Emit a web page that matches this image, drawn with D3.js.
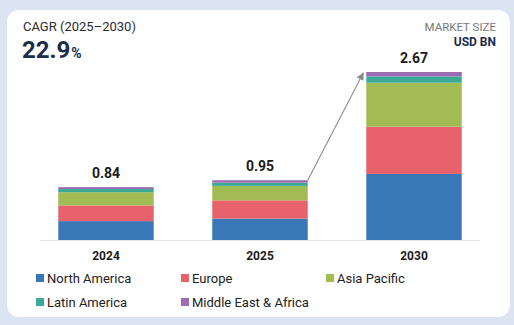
<!DOCTYPE html>
<html><head><meta charset="utf-8">
<script src="https://cdn.jsdelivr.net/npm/d3@7"></script>
<style>
html,body{margin:0;padding:0;background:#dbe5f1;}
svg{display:block;font-family:Roboto,"Noto Sans",sans-serif;}
</style></head>
<body>
<svg id="chart" width="514" height="325"></svg>
<script>
const years = ["2024", "2025", "2030"];
const regions = ["North America", "Europe", "Asia Pacific", "Latin America", "Middle East & Africa"];
const northAmerica = [0.30, 0.34, 1.05];
const europe = [0.25, 0.29, 0.75];
const asiaPacific = [0.21, 0.23, 0.70];
const latinAmerica = [0.05, 0.05, 0.10];
const middleEastAfrica = [0.03, 0.04, 0.07];
const totals = ["0.84", "0.95", "2.67"];
const colors = ["#3a77b6", "#e8626b", "#a2bc55", "#3aab97", "#9c6bb3"];

const seriesValues = [northAmerica, europe, asiaPacific, latinAmerica, middleEastAfrica];
const table = years.map((y, i) => {
  const row = {year: y};
  regions.forEach((r, k) => row[r] = seriesValues[k][i]);
  return row;
});

const svg = d3.select("#chart");
svg.append("rect").attr("x", 7).attr("y", 10).attr("width", 503).attr("height", 307)
  .attr("rx", 12).attr("fill", "#ffffff");

const x = d3.scaleBand().domain(years).range([29, 491]).paddingInner(0.38).paddingOuter(0.19);
const y = d3.scaleLinear().domain([0, 2.67]).range([240, 72]);

const stack = d3.stack().keys(regions)(table);

svg.append("line").attr("x1", 40).attr("x2", 480).attr("y1", 240.5).attr("y2", 240.5)
  .attr("stroke", "#e3e6ea").attr("stroke-width", 1);

svg.append("g").selectAll("g").data(stack).join("g")
  .attr("fill", (d, i) => colors[i])
  .selectAll("rect").data(d => d).join("rect")
  .attr("x", d => x(d.data.year))
  .attr("width", x.bandwidth())
  .attr("y", d => y(d[1]))
  .attr("height", d => y(d[0]) - y(d[1]));

// totals
svg.append("g").selectAll("text").data(years).join("text")
  .attr("x", d => x(d) + x.bandwidth() / 2)
  .attr("y", (d, i) => y(+totals[i]) - 9)
  .attr("text-anchor", "middle")
  .attr("font-size", 14).attr("font-weight", 700).attr("fill", "#1b1b1b")
  .text((d, i) => totals[i]);

// x axis labels
const xAxis = d3.axisBottom(x).tickSize(0).tickPadding(0);
const gx = svg.append("g").attr("transform", "translate(0,251)").call(xAxis);
gx.select(".domain").remove();
gx.selectAll("text").attr("font-size", 12).attr("font-weight", 700).attr("fill", "#1b1b1b")
  .attr("font-family", "Roboto, sans-serif");

// arrow
svg.append("defs").append("marker").attr("id", "ah").attr("viewBox", "0 0 10 10")
  .attr("refX", 9).attr("refY", 5).attr("markerWidth", 7).attr("markerHeight", 7)
  .attr("orient", "auto").append("path").attr("d", "M0,0L10,5L0,10z").attr("fill", "#8a8a8a");
svg.append("line")
  .attr("x1", x("2025") + x.bandwidth()).attr("y1", y(0.95))
  .attr("x2", x("2030") - 3).attr("y2", y(2.67) + 1)
  .attr("stroke", "#8a8a8a").attr("stroke-width", 1.1).attr("marker-end", "url(#ah)");

// header
svg.append("text").attr("x", 23).attr("y", 31).attr("font-size", 13).attr("fill", "#2b2b2b")
  .text("CAGR (2025–2030)");
const big = svg.append("text").attr("x", 22).attr("y", 58).attr("fill", "#1a2d4a").attr("font-weight", 700);
big.append("tspan").attr("font-size", 24).text("22.9");
big.append("tspan").attr("font-size", 14).attr("dx", 1).text("%");

svg.append("text").attr("x", 496).attr("y", 31).attr("text-anchor", "end")
  .attr("font-size", 11.5).attr("fill", "#777").text("MARKET SIZE");
svg.append("text").attr("x", 496).attr("y", 46).attr("text-anchor", "end")
  .attr("font-size", 12).attr("font-weight", 700).attr("fill", "#1a2d4a").text("USD BN");

// legend
const legendX = [36, 181, 326];
const leg = svg.append("g").selectAll("g").data(regions).join("g")
  .attr("transform", (d, i) => `translate(${legendX[i % 3]},${i < 3 ? 278 : 302})`);
leg.append("rect").attr("x", 0).attr("y", -4).attr("width", 8).attr("height", 8)
  .attr("fill", (d, i) => colors[i]);
leg.append("text").attr("x", 11).attr("y", 4.5).attr("font-size", 13).attr("fill", "#222")
  .text(d => d);
</script>
</body></html>
